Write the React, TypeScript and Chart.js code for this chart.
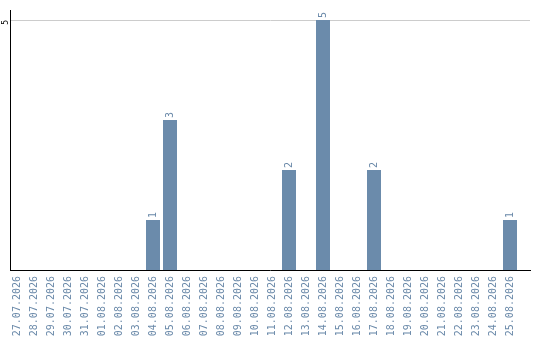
import React, { useEffect, useRef } from "react";
import { Chart, registerables } from "chart.js";

Chart.register(...registerables);

const dates = [
  "27.07.2026", "28.07.2026", "29.07.2026", "30.07.2026", "31.07.2026",
  "01.08.2026", "02.08.2026", "03.08.2026", "04.08.2026", "05.08.2026",
  "06.08.2026", "07.08.2026", "08.08.2026", "09.08.2026", "10.08.2026",
  "11.08.2026", "12.08.2026", "13.08.2026", "14.08.2026", "15.08.2026",
  "16.08.2026", "17.08.2026", "18.08.2026", "19.08.2026", "20.08.2026",
  "21.08.2026", "22.08.2026", "23.08.2026", "24.08.2026", "25.08.2026",
];

const counts = [
  0, 0, 0, 0, 0,
  0, 0, 0, 1, 3,
  0, 0, 0, 0, 0,
  0, 2, 0, 5, 0,
  0, 2, 0, 0, 0,
  0, 0, 0, 0, 1,
];

const yTicks = [5];

const BAR_COLOR = "#6b8bab";
const LABEL_COLOR = "#6a89a9";
const MONO = "'DejaVu Sans Mono', monospace";

// Day slots run along a numeric axis; the extra room on the right is empty axis
const X_MIN = -7 / 17;
const X_MAX = 513 / 17;

// Writes each non-zero value vertically just above its bar
const valueLabels = {
  id: "valueLabels",
  afterDatasetsDraw(chart: any) {
    const ctx = chart.ctx;
    const meta = chart.getDatasetMeta(0);
    ctx.save();
    ctx.font = `10px ${MONO}`;
    ctx.fillStyle = LABEL_COLOR;
    ctx.textAlign = "left";
    ctx.textBaseline = "middle";
    meta.data.forEach((bar: any, i: number) => {
      const v = counts[i];
      if (!v) return;
      ctx.save();
      ctx.translate(bar.x, bar.y - 2);
      ctx.rotate(-Math.PI / 2);
      ctx.fillText(String(v), 0, 0);
      ctx.restore();
    });
    ctx.restore();
  },
};

export default function App() {
  const ref = useRef<HTMLCanvasElement | null>(null);

  useEffect(() => {
    if (!ref.current) return;
    const chart = new Chart(ref.current, {
      type: "bar",
      data: {
        datasets: [
          {
            data: counts.map((v, i) => ({ x: i, y: v })),
            backgroundColor: BAR_COLOR,
            barPercentage: 14 / 17,
            categoryPercentage: 1,
          },
        ],
      },
      options: {
        animation: false,
        responsive: false,
        maintainAspectRatio: false,
        layout: { padding: { top: 10, right: 10, left: 0, bottom: 0 } },
        plugins: {
          legend: { display: false },
          tooltip: { enabled: false },
        },
        scales: {
          x: {
            type: "linear",
            min: X_MIN,
            max: X_MAX,
            offset: false,
            border: { color: "#000", width: 1 },
            grid: { display: false, drawTicks: false },
            afterBuildTicks(scale: any) {
              scale.ticks = dates.map((_, i) => ({ value: i }));
            },
            ticks: {
              autoSkip: false,
              minRotation: 90,
              maxRotation: 90,
              padding: 6,
              color: LABEL_COLOR,
              font: { family: MONO, size: 10 },
              callback: (v: any) => dates[Math.round(Number(v))] ?? "",
            },
            afterFit(scale: any) {
              scale.height = 70;
            },
          },
          y: {
            min: 0,
            max: 5.2,
            border: { color: "#000", width: 1 },
            grid: {
              drawTicks: false,
              color: (c: any) => (c.tick && yTicks.includes(c.tick.value) ? "#cccccc" : "rgba(0,0,0,0)"),
            },
            afterBuildTicks(scale: any) {
              scale.ticks = yTicks.map((v) => ({ value: v }));
            },
            ticks: {
              minRotation: 90,
              maxRotation: 90,
              padding: 4,
              color: "#000",
              font: { family: MONO, size: 8 },
            },
            afterFit(scale: any) {
              scale.width = 10;
            },
          },
        },
      },
      plugins: [valueLabels],
    });
    return () => chart.destroy();
  }, []);

  return (
    <div style={{ position: "fixed", left: 0, top: 0, width: 540, height: 340, background: "#fff" }}>
      <canvas ref={ref} width={540} height={340} style={{ display: "block" }} />
    </div>
  );
}
